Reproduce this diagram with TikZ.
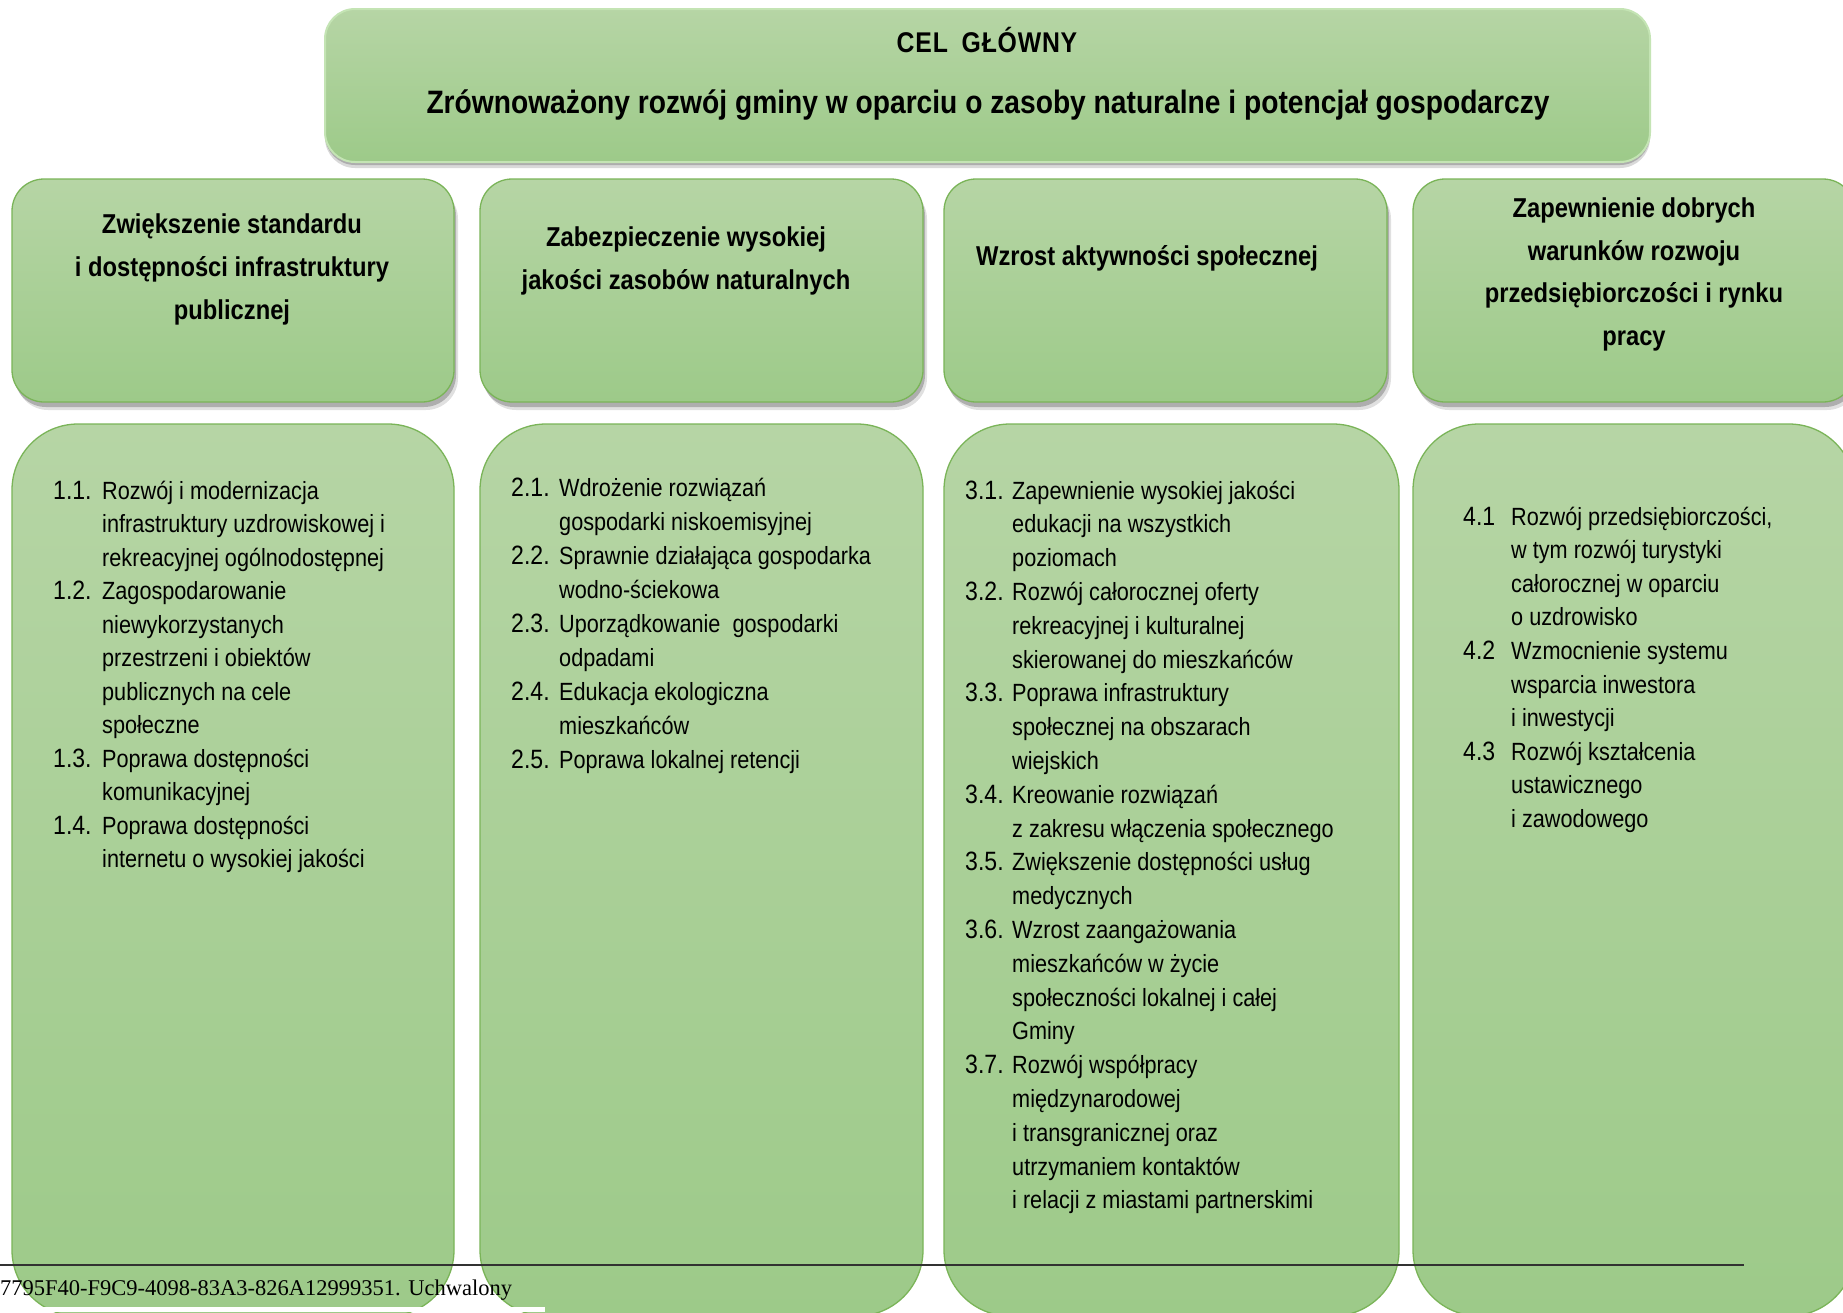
\documentclass[tikz,border=0pt]{standalone}
\usepackage{fontspec}
\setmainfont{Liberation Sans}[FakeStretch=0.87]
\newfontfamily\footserif{Liberation Serif}
\usetikzlibrary{shadows}
\definecolor{gtop}{RGB}{182,213,165}
\definecolor{gbot}{RGB}{157,202,137}
\definecolor{gborder}{RGB}{122,180,88}
\definecolor{glight}{RGB}{196,228,180}
\definecolor{footline}{RGB}{50,50,50}
\newcommand{\ls}{\kern0.8pt}
\newcommand{\numtxt}[1]{{\fontsize{26.5}{33.8}\selectfont\ignorespaces#1}}
\begin{document}
\begin{tikzpicture}[x=1pt,y=-1pt,
  gbox/.style={draw=gborder, line width=1.3pt, top color=gtop, bottom color=gbot},
  mainbox/.style={gbox, draw=glight, line width=2pt, rounded corners=30pt,
     minimum width=1325pt, minimum height=153pt, inner sep=0pt,
     drop shadow={shadow xshift=0pt, shadow yshift=-6pt, opacity=.15, fill=black},
     drop shadow={shadow xshift=0pt, shadow yshift=-3pt, opacity=.2, fill=black}},
  headbox/.style={gbox, rounded corners=32pt, minimum height=223pt, inner sep=0pt,
     drop shadow={shadow xshift=4pt, shadow yshift=-8pt, opacity=.12, fill=black},
     drop shadow={shadow xshift=2pt, shadow yshift=-5pt, opacity=.22, fill=black}},
  bodybox/.style={gbox, rounded corners=66pt, minimum height=892pt, inner sep=0pt},
  celt/.style={font=\bfseries\fontsize{28.5}{34}\selectfont, inner sep=0pt, anchor=base},
  titlet/.style={font=\bfseries\fontsize{32.4}{38}\selectfont, inner sep=0pt, anchor=base},
  hd/.style={font=\bfseries\fontsize{27.3}{43}\selectfont, inner sep=0pt, anchor=base},
  lst/.style={font=\fontsize{24.9}{33.8}\selectfont, inner sep=0pt, anchor=base west},
  foot/.style={font=\footserif\fontsize{22.5}{27}\selectfont, inner sep=0pt, anchor=base west}
]
\useasboundingbox (0,0) rectangle (1843,1312);
\fill[white] (0,0) rectangle (1843,1312);

% main goal box
\node[mainbox] (main) at (987.5,85.5) {};
\node[celt] (cel) at (987,52) {C\ls E\ls L\ \ G\ls Ł\ls Ó\ls W\ls N\ls Y};
\node[titlet] (title) at (988,113) {Zrównoważony rozwój gminy w oparciu o zasoby naturalne i potencjał gospodarczy};

% header boxes
\node[headbox, minimum width=442pt] (h1) at (233,290.5) {};
\node[headbox, minimum width=443pt] (h2) at (701.5,290.5) {};
\node[headbox, minimum width=443pt] (h3) at (1165.5,290.5) {};
\node[headbox, minimum width=442pt] (h4) at (1634,290.5) {};

% body boxes
\node[bodybox, minimum width=442pt] (b1) at (233,870) {};
\node[bodybox, minimum width=443pt] (b2) at (701.5,870) {};
\node[bodybox, minimum width=455pt] (b3) at (1171.5,870) {};
\node[bodybox, minimum width=442pt] (b4) at (1634,870) {};

% header texts
\node[hd] (h1a) at (232,233) {Zwiększenie standardu};
\node[hd] (h1b) at (232,276) {i dostępności infrastruktury};
\node[hd] (h1c) at (232,319) {publicznej};
\node[hd] (h2a) at (686,246) {Zabezpieczenie wysokiej};
\node[hd] (h2b) at (686,289) {jakości zasobów naturalnych};
\node[hd] (h3a) at (1147,265) {Wzrost aktywności społecznej};
\node[hd] (h4a) at (1634,217) {Zapewnienie dobrych};
\node[hd] (h4b) at (1634,260) {warunków rozwoju};
\node[hd] (h4c) at (1634,302) {przedsiębiorczości i rynku};
\node[hd] (h4d) at (1634,345) {pracy};

% column 1
\foreach \n/\t [count=\i from 0] in {
 1.1./Rozwój i modernizacja,
 /infrastruktury uzdrowiskowej i,
 /rekreacyjnej ogólnodostępnej,
 1.2./Zagospodarowanie,
 /niewykorzystanych,
 /przestrzeni i obiektów,
 /publicznych na cele,
 /społeczne,
 1.3./Poprawa dostępności,
 /komunikacyjnej,
 1.4./Poprawa dostępności,
 /internetu o wysokiej jakości}
 \node[lst] (c1-\i) at (53,{499+33.5*\i}) {\makebox[49pt][l]{\numtxt{\n}}\t};

% column 2
\foreach \n/\t [count=\i from 0] in {
 2.1./Wdrożenie rozwiązań,
 /gospodarki niskoemisyjnej,
 2.2./Sprawnie działająca gospodarka,
 /wodno-ściekowa,
 2.3./Uporządkowanie\ \ gospodarki,
 /odpadami,
 2.4./Edukacja ekologiczna,
 /mieszkańców,
 2.5./Poprawa lokalnej retencji}
 \node[lst] (c2-\i) at (511,{496+34*\i}) {\makebox[48pt][l]{\numtxt{\n}}\t};

% column 3
\foreach \n/\t [count=\i from 0] in {
 3.1./Zapewnienie wysokiej jakości,
 /edukacji na wszystkich,
 /poziomach,
 3.2./Rozwój całorocznej oferty,
 /rekreacyjnej i kulturalnej,
 /skierowanej do mieszkańców,
 3.3./Poprawa infrastruktury,
 /społecznej na obszarach,
 /wiejskich,
 3.4./Kreowanie rozwiązań,
 /z zakresu włączenia społecznego,
 3.5./Zwiększenie dostępności usług,
 /medycznych,
 3.6./Wzrost zaangażowania,
 /mieszkańców w życie,
 /społeczności lokalnej i całej,
 /Gminy,
 3.7./Rozwój współpracy,
 /międzynarodowej,
 /i transgranicznej oraz,
 /utrzymaniem kontaktów,
 /i relacji z miastami partnerskimi}
 \node[lst] (c3-\i) at (965,{499+33.8*\i}) {\makebox[47pt][l]{\numtxt{\n}}\t};

% column 4
\foreach \n/\t [count=\i from 0] in {
 4.1/{Rozwój przedsiębiorczości,},
 /w tym rozwój turystyki,
 /całorocznej w oparciu,
 /o uzdrowisko,
 4.2/Wzmocnienie systemu,
 /wsparcia inwestora,
 /i inwestycji,
 4.3/Rozwój kształcenia,
 /ustawicznego,
 /i zawodowego}
 \node[lst] (c4-\i) at (1463,{525+33.6*\i}) {\makebox[48pt][l]{\numtxt{\n}}\t};

% footer
\fill[white] (0,1306.5) rectangle (545,1312);
\coordinate (fl0) at (0,1265);
\coordinate (fl1) at (1744,1265);
\draw[footline, line width=1.8pt] (fl0) -- (fl1);
\node[foot] (footer) at (0,1295) {7795F40-F9C9-4098-83A3-826A12999351. Uchwalony};
\end{tikzpicture}
\end{document}
